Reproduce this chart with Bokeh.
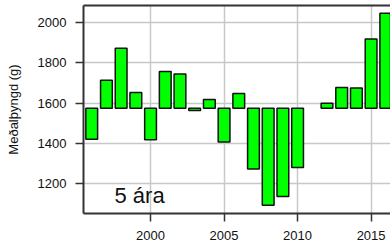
from bokeh.plotting import figure
from bokeh.models import ColumnDataSource, FixedTicker, LinearAxis, Label, Range1d
from bokeh.embed import file_html
from bokeh.resources import INLINE

years = [1996, 1997, 1998, 1999, 2000, 2001, 2002, 2003, 2004, 2005,
         2006, 2007, 2008, 2009, 2010, 2012, 2013, 2014, 2015, 2016]
weights = [1421, 1714, 1872, 1653, 1418, 1757, 1744, 1563, 1618, 1407,
           1648, 1273, 1093, 1137, 1280, 1600, 1678, 1675, 1918, 2046]
mean_weight = 1575
x_ticks = [2000, 2005, 2010, 2015]
y_ticks = [1200, 1400, 1600, 1800, 2000]
y_title = "Meðalþyngd (g)"
age_label = "5 ára"

FONT = "Liberation Sans"
AXC = "#333333"

src = ColumnDataSource(dict(x=years, top=weights, bottom=[mean_weight] * len(years)))

p = figure(width=390, height=250, output_backend="svg", toolbar_location=None,
           x_range=Range1d(1995.44, 2016.32), y_range=Range1d(1052.2, 2084.6),
           min_border_left=83, min_border_right=0, min_border_top=5, min_border_bottom=37)
p.outline_line_color = None
p.background_fill_color = "white"
p.border_fill_color = "white"

p.vbar(x="x", top="top", bottom="bottom", width=0.8, source=src,
       fill_color="#00ff00", line_color="#111111", line_width=1.5)

p.xgrid.ticker = FixedTicker(ticks=x_ticks)
p.ygrid.ticker = FixedTicker(ticks=y_ticks)
for g in (p.xgrid, p.ygrid):
    g.grid_line_color = "#c8c8c8"
    g.grid_line_width = 1.5

xa = p.xaxis[0]
xa.ticker = FixedTicker(ticks=x_ticks)
ya = p.yaxis[0]
ya.ticker = FixedTicker(ticks=y_ticks)
ya.axis_label = y_title
for ax in (xa, ya):
    ax.axis_line_color = AXC
    ax.axis_line_width = 2
    ax.major_tick_line_color = AXC
    ax.major_tick_line_width = 1.5
    ax.major_tick_out = 8
    ax.major_tick_in = 0
    ax.minor_tick_line_color = None
    ax.major_label_text_font = FONT
    ax.major_label_text_font_size = "13px"
    ax.major_label_text_color = "#111111"
    ax.axis_label_text_font = FONT
    ax.axis_label_text_font_size = "13px"
    ax.axis_label_text_font_style = "normal"
    ax.axis_label_text_color = "#111111"
xa.major_label_standoff = 9
ya.major_label_standoff = 9
ya.axis_label_standoff = 14

top = LinearAxis(ticker=FixedTicker(ticks=[]), axis_line_color=AXC, axis_line_width=2,
                 major_tick_line_color=None, minor_tick_line_color=None,
                 major_label_text_font_size="0px")
p.add_layout(top, "above")

p.add_layout(Label(x=1997.55, y=1142, text=age_label, text_baseline="alphabetic",
                   text_font=FONT, text_font_size="22px", text_color="#111111"))

open("out.html", "w").write(file_html(p, INLINE))
